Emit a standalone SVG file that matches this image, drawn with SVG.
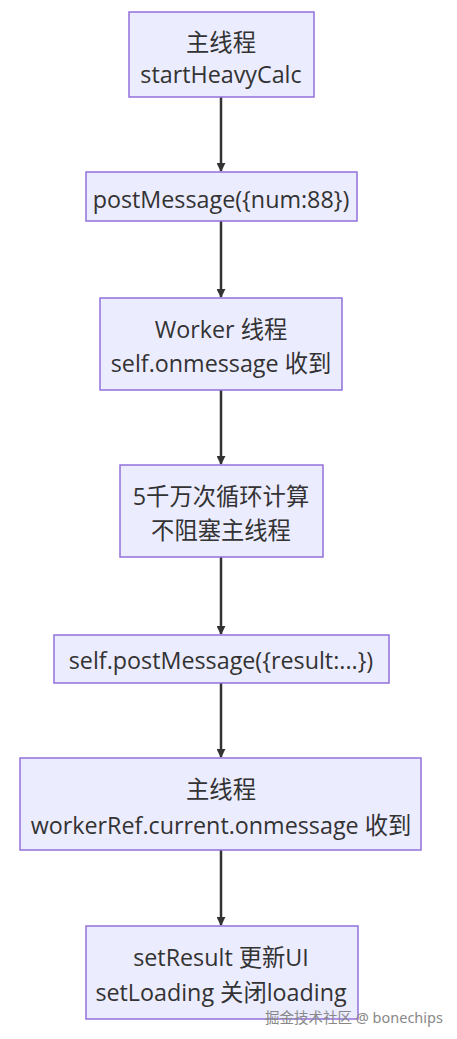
<svg xmlns="http://www.w3.org/2000/svg" width="457" height="1039" viewBox="0 0 457 1039">
<style>
.n rect{fill:#ECECFF;stroke:#9370DB;stroke-width:1.5}
.n text{font-family:"Open Sans","Noto Sans CJK SC",sans-serif;font-size:23.3px;fill:#333;text-anchor:middle}
.e line{stroke:#333;stroke-width:2.5}
.wm{font-family:"Noto Sans","Noto Sans CJK SC",sans-serif;font-size:14.5px;fill:#888}
</style>
<defs>
<marker id="ah" viewBox="0 0 10 10" refX="9" refY="5" markerWidth="9" markerHeight="9" orient="auto" markerUnits="userSpaceOnUse">
<path d="M0,0 L10,5 L0,10 z" fill="#333"/>
</marker>
</defs>
<rect width="457" height="1039" fill="#fff"/>
<g id="edges" class="e">
<line x1="221" y1="97" x2="221" y2="171" marker-end="url(#ah)"/>
<line x1="221" y1="221" x2="221" y2="297" marker-end="url(#ah)"/>
<line x1="221" y1="390" x2="221" y2="464" marker-end="url(#ah)"/>
<line x1="221" y1="557" x2="221" y2="634" marker-end="url(#ah)"/>
<line x1="221" y1="683" x2="221" y2="757" marker-end="url(#ah)"/>
<line x1="221" y1="850" x2="221" y2="925" marker-end="url(#ah)"/>
</g>
<g id="n1" class="n"><rect x="129" y="12" width="185" height="85"/><text x="221" y="51">主线程</text><text x="221" y="83">startHeavyCalc</text></g>
<g id="n2" class="n"><rect x="86" y="172" width="271" height="49"/><text x="221" y="208">postMessage({num:88})</text></g>
<g id="n3" class="n"><rect x="100" y="298" width="242" height="92"/><text x="221" y="338">Worker 线程</text><text x="221" y="372">self.onmessage 收到</text></g>
<g id="n4" class="n"><rect x="120" y="465" width="203" height="92"/><text x="221" y="505">5千万次循环计算</text><text x="221" y="539">不阻塞主线程</text></g>
<g id="n5" class="n"><rect x="54" y="635" width="335" height="48"/><text x="221" y="669">self.postMessage({result:...})</text></g>
<g id="n6" class="n"><rect x="20" y="758" width="401" height="92"/><text x="221" y="798">主线程</text><text x="221" y="834">workerRef.current.onmessage 收到</text></g>
<g id="n7" class="n"><rect x="86" y="926" width="272" height="93"/><text x="221" y="966">setResult 更新UI</text><text x="221" y="1001">setLoading 关闭loading</text></g>
<text class="wm" x="265" y="1023">掘金技术社区 @ bonechips</text>
</svg>
